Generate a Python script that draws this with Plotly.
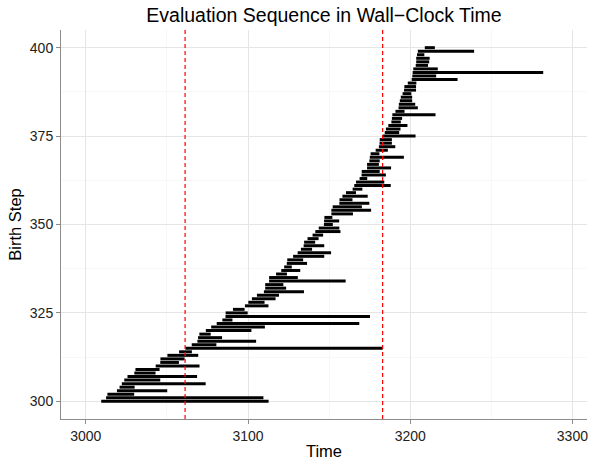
import plotly.graph_objects as go

# Birth step of each evaluation
steps = list(range(300, 401))

# Start time of each evaluation
start_times = [
    3009.5, 3012.5, 3013.3, 3019.2, 3020.8, 3022.2, 3023.7, 3025.7, 3029.9, 3030.6,
    3043.1, 3045.9, 3046.0, 3050.3, 3057.5, 3061.4, 3065.3, 3068.8, 3069.2, 3070.0,
    3074.0, 3077.3, 3080.7, 3084.2, 3086.1, 3086.2, 3090.7, 3098.1, 3100.2, 3102.4,
    3105.5, 3109.8, 3110.6, 3110.6, 3113.0, 3113.0, 3117.3, 3120.5, 3122.3, 3123.9,
    3124.2, 3127.8, 3130.6, 3132.6, 3134.3, 3134.6, 3136.7, 3139.8, 3141.5, 3143.6,
    3146.8, 3146.9, 3147.1, 3151.4, 3151.4, 3152.2, 3156.3, 3156.4, 3158.2, 3160.4,
    3164.5, 3165.5, 3166.6, 3168.8, 3170.0, 3170.1, 3173.4, 3173.4, 3174.8, 3175.1,
    3175.6, 3178.7, 3180.7, 3181.1, 3181.2, 3183.0, 3184.3, 3185.0, 3186.5, 3188.4,
    3188.7, 3189.0, 3190.9, 3192.8, 3193.0, 3193.6, 3194.2, 3195.3, 3196.2, 3196.4,
    3198.5, 3200.9, 3201.3, 3201.5, 3201.9, 3203.4, 3203.7, 3203.7, 3204.2, 3204.7,
    3209.0,
]

# End time of each evaluation
end_times = [
    3112.7, 3109.5, 3029.8, 3050.2, 3030.1, 3073.9, 3045.9, 3068.6, 3043.0, 3045.5,
    3070.1, 3057.4, 3060.9, 3069.3, 3065.4, 3183.0, 3080.5, 3105.0, 3084.0, 3077.0,
    3102.1, 3110.4, 3168.6, 3090.4, 3175.2, 3099.8, 3097.9, 3112.6, 3110.2, 3117.0,
    3119.1, 3134.5, 3123.5, 3121.8, 3160.2, 3130.7, 3124.0, 3132.2, 3127.0, 3136.4,
    3134.0, 3147.0, 3151.2, 3139.5, 3147.0, 3141.4, 3143.5, 3146.3, 3157.0, 3156.3,
    3152.3, 3156.2, 3152.0, 3164.7, 3175.9, 3170.2, 3174.8, 3164.4, 3173.8, 3166.6,
    3170.5, 3188.0, 3184.0, 3173.5, 3185.0, 3181.2, 3188.2, 3180.7, 3181.2, 3196.1,
    3181.0, 3186.2, 3190.8, 3188.7, 3188.7, 3203.3, 3193.2, 3194.0, 3198.3, 3194.2,
    3195.0, 3215.6, 3196.5, 3204.7, 3203.1, 3201.2, 3201.2, 3200.7, 3203.6, 3203.6,
    3203.8, 3229.2, 3216.0, 3282.0, 3217.0, 3211.0, 3211.7, 3212.0, 3208.7, 3239.4,
    3215.2,
]

# Reference times (dashed red lines)
marker_times = [3061.2, 3183.0]

x_ticks = [3000, 3100, 3200, 3300]
y_ticks = [300, 325, 350, 375, 400]

seg_x, seg_y = [], []
for s, a, b in zip(steps, start_times, end_times):
    seg_x += [a, b, None]
    seg_y += [s, s, None]

fig = go.Figure()
fig.add_trace(go.Scatter(x=seg_x, y=seg_y, mode="lines",
                         line=dict(color="black", width=3),
                         hoverinfo="skip", showlegend=False))

for t in marker_times:
    fig.add_shape(type="line", xref="x", yref="paper", x0=t, x1=t, y0=0, y1=1,
                  line=dict(color="#FF0000", width=1.2, dash="4px,3px"))

font_family = "Liberation Sans, Arial, Helvetica, sans-serif"
fig.update_layout(
    width=597, height=460,
    margin=dict(l=61, r=10, t=30, b=41),
    paper_bgcolor="white", plot_bgcolor="white",
    font=dict(family=font_family, color="#222222"),
    title=dict(text="Evaluation Sequence in Wall\u2212Clock Time",
               x=0.5427, xanchor="center", y=0.968, yanchor="middle",
               font=dict(size=19.5, color="black", family=font_family)),
    showlegend=False,
)
fig.update_xaxes(
    range=[2984.7, 3309], tickvals=x_ticks, ticktext=[str(v) for v in x_ticks],
    showgrid=True, gridcolor="#E5E5E5", gridwidth=1,
    minor=dict(dtick=50, tick0=2950, showgrid=True, gridcolor="#F7F7F7", gridwidth=1, ticks=""),
    zeroline=False, showline=True, linecolor="#8C8C8C", linewidth=1, mirror=False,
    ticks="outside", ticklen=4, tickcolor="#8C8C8C", tickwidth=1,
    tickfont=dict(size=14, color="#222222"),
    title=dict(text="Time", font=dict(size=16.5, color="black"), standoff=2),
    automargin=False,
)
fig.update_yaxes(
    range=[295, 405], tickvals=y_ticks, ticktext=[str(v) for v in y_ticks],
    showgrid=True, gridcolor="#E5E5E5", gridwidth=1,
    minor=dict(dtick=12.5, tick0=287.5, showgrid=True, gridcolor="#F7F7F7", gridwidth=1, ticks=""),
    zeroline=False, showline=True, linecolor="#8C8C8C", linewidth=1, mirror=False,
    ticks="outside", ticklen=4, tickcolor="#8C8C8C", tickwidth=1,
    tickfont=dict(size=14, color="#222222"),
    title=dict(text="Birth Step", font=dict(size=16.5, color="black"), standoff=4),
    automargin=False,
)

fig.write_html("out.html")
